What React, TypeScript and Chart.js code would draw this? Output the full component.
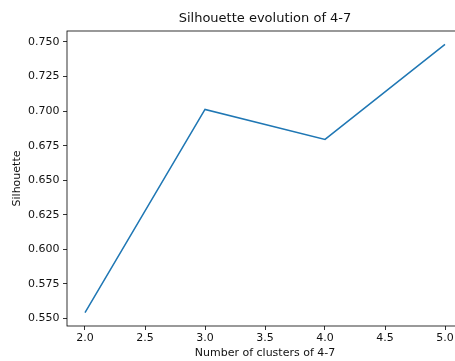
import React, { useEffect, useRef } from "react";
import { Chart, registerables } from "chart.js";

Chart.register(...registerables);

const clusters = [2.0, 3.0, 4.0, 5.0];
const silhouette = [0.5543, 0.7012, 0.6795, 0.7482];
const xTicks = [2.0, 2.5, 3.0, 3.5, 4.0, 4.5, 5.0];
const yTicks = [0.55, 0.575, 0.6, 0.625, 0.65, 0.675, 0.7, 0.725, 0.75];
const titleText = "Silhouette evolution of 4-7";
const xLabel = "Number of clusters of 4-7";
const yLabel = "Silhouette";

const FONT = "'DejaVu Sans', sans-serif";

function margins(vals: number[]) {
  const lo = Math.min(...vals);
  const hi = Math.max(...vals);
  const m = (hi - lo) * 0.05;
  return [lo - m, hi + m];
}

const frame = {
  id: "frame",
  afterDraw(chart: any) {
    const { ctx, chartArea } = chart;
    ctx.save();
    ctx.strokeStyle = "#000";
    ctx.lineWidth = 0.8;
    ctx.strokeRect(
      chartArea.left,
      chartArea.top,
      chartArea.right - chartArea.left,
      chartArea.bottom - chartArea.top
    );
    ctx.restore();
  },
};

export default function App() {
  const ref = useRef<HTMLCanvasElement>(null);
  useEffect(() => {
    if (!ref.current) return;
    const [xMin, xMax] = margins(clusters);
    const [yMin, yMax] = margins(silhouette);
    const chart = new Chart(ref.current, {
      type: "line",
      data: {
        datasets: [
          {
            data: clusters.map((x, i) => ({ x, y: silhouette[i] })),
            borderColor: "#1f77b4",
            borderWidth: 1.5,
            pointRadius: 0,
            tension: 0,
            fill: false,
          },
        ],
      },
      options: {
        responsive: false,
        animation: false,
        devicePixelRatio: 1,
        layout: { padding: 0 },
        plugins: {
          legend: { display: false },
          tooltip: { enabled: false },
          title: {
            display: true,
            text: titleText,
            fullSize: false,
            color: "#111",
            font: { family: FONT, size: 13, weight: "normal", lineHeight: 1.2 },
            padding: { top: 10.5, bottom: 4.9 },
          },
        },
        scales: {
          x: {
            type: "linear",
            min: xMin,
            max: xMax,
            afterBuildTicks: (s: any) => {
              s.ticks = xTicks.map((v) => ({ value: v }));
            },
            afterFit: (s: any) => {
              s.height = 35;
            },
            border: { display: false },
            grid: {
              display: true,
              drawOnChartArea: false,
              drawTicks: true,
              tickLength: 4,
              color: "#000",
              lineWidth: 0.8,
            },
            ticks: {
              color: "#111",
              padding: 1.4,
              maxRotation: 0,
              autoSkip: false,
              font: { family: FONT, size: 11 },
              callback: (v: any) => Number(v).toFixed(1),
            },
            title: {
              display: true,
              text: xLabel,
              color: "#111",
              font: { family: FONT, size: 11, lineHeight: 1.2 },
              padding: { top: 0, bottom: 1.4 },
            },
          },
          y: {
            type: "linear",
            min: yMin,
            max: yMax,
            afterBuildTicks: (s: any) => {
              s.ticks = yTicks.map((v) => ({ value: v }));
            },
            afterFit: (s: any) => {
              s.width = 67;
            },
            border: { display: false },
            grid: {
              display: true,
              drawOnChartArea: false,
              drawTicks: true,
              tickLength: 4,
              color: "#000",
              lineWidth: 0.8,
            },
            ticks: {
              color: "#111",
              padding: 3.5,
              autoSkip: false,
              font: { family: FONT, size: 11 },
              callback: (v: any) => Number(v).toFixed(3),
            },
            title: {
              display: true,
              text: yLabel,
              color: "#111",
              font: { family: FONT, size: 11, lineHeight: 1.2 },
              padding: { top: 10.1, bottom: 0 },
            },
          },
        },
      },
      plugins: [frame],
    });
    return () => chart.destroy();
  }, []);
  return (
    <div
      style={{
        position: "fixed",
        left: 0,
        top: 0,
        width: 455,
        height: 361,
        overflow: "hidden",
        background: "#fff",
      }}
    >
      <canvas ref={ref} width={463} height={361} style={{ display: "block" }} />
    </div>
  );
}
